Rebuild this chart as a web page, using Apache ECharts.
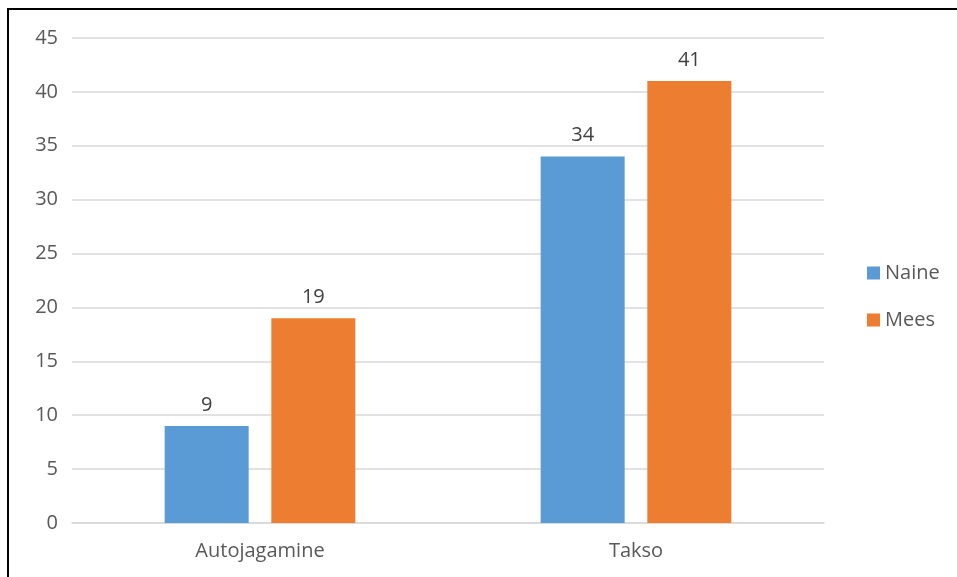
<!DOCTYPE html>
<html><head><meta charset="utf-8">
<script src="https://cdn.jsdelivr.net/npm/echarts@6/dist/echarts.min.js"></script>
<style>html,body{margin:0;padding:0;background:#fff}#c{width:957px;height:577px}</style>
</head><body><div id="c"></div>
<script>
const categories = ['Autojagamine', 'Takso'];
const naine = [9, 34];
const mees = [19, 41];
const seriesNames = ['Naine', 'Mees'];
const font = '"Open Sans", "Liberation Sans", sans-serif';
const chart = echarts.init(document.getElementById('c'));
chart.setOption({
  animation: false,
  textStyle: {fontFamily: font},
  graphic: [{type: 'rect', shape: {x: 8, y: 9, width: 1100, height: 1100}, style: {fill: 'none', stroke: '#000', lineWidth: 2}, z: 100}],
  legend: {
    orient: 'vertical', left: 862, top: 258, itemWidth: 13, itemHeight: 13, itemGap: 27,
    icon: 'rect', textStyle: {fontSize: 20, color: '#595959', fontFamily: font}, data: seriesNames
  },
  grid: {left: 72, right: 133, top: 38, bottom: 54, containLabel: false},
  xAxis: {
    type: 'category', data: categories,
    axisLine: {lineStyle: {color: '#d9d9d9', width: 1.5}}, axisTick: {show: false},
    axisLabel: {fontSize: 20, color: '#595959', margin: 18, fontFamily: font}
  },
  yAxis: {
    type: 'value', min: 0, max: 45, interval: 5,
    axisLine: {show: false}, axisTick: {show: false},
    splitLine: {lineStyle: {color: '#d9d9d9', width: 1.5}},
    axisLabel: {fontSize: 20, color: '#595959', margin: 14, fontFamily: font}
  },
  series: [
    {name: seriesNames[0], type: 'bar', data: naine, barWidth: 84, barGap: '27%', itemStyle: {color: '#5b9bd5'},
     label: {show: true, position: 'top', distance: 11, fontSize: 20, color: '#404040', fontFamily: font}},
    {name: seriesNames[1], type: 'bar', data: mees, barWidth: 84, itemStyle: {color: '#ed7d31'},
     label: {show: true, position: 'top', distance: 11, fontSize: 20, color: '#404040', fontFamily: font}}
  ]
});
</script></body></html>
